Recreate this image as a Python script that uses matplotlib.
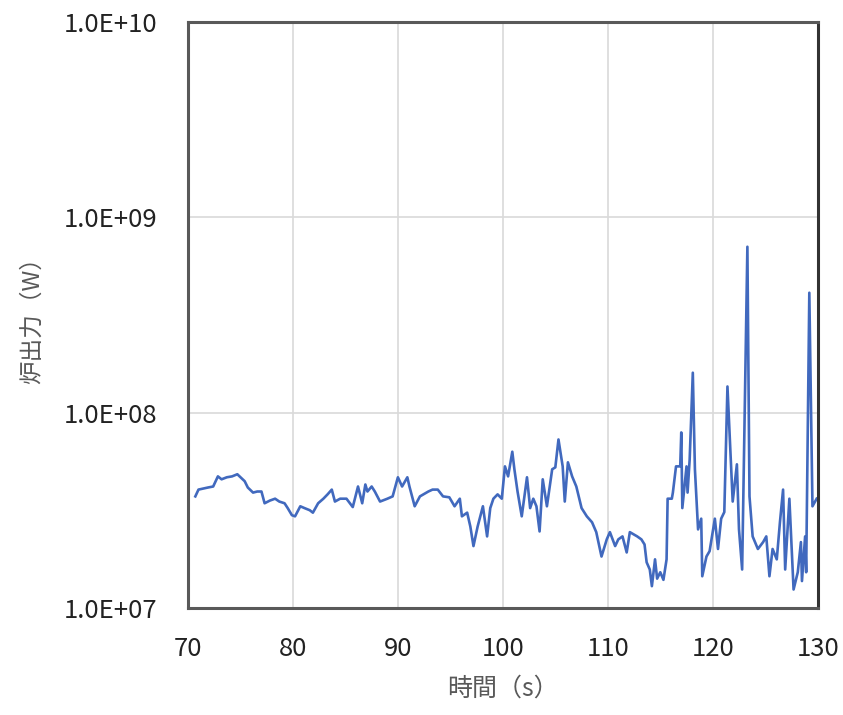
#!/usr/bin/env python3
import numpy as np
import matplotlib
matplotlib.use('Agg')
import matplotlib.pyplot as plt
from matplotlib.ticker import FixedLocator, FuncFormatter

plt.rcParams['font.family'] = ['Noto Sans CJK JP', 'DejaVu Sans']

# time (s) and reactor power (W)
time_s = [
    70.7, 71.0, 71.9, 72.4, 72.85, 73.2, 73.7, 74.2, 74.7, 75.0,
    75.4, 75.7, 76.2, 76.6, 77.0, 77.3, 77.8, 78.3, 78.7, 79.2,
    79.5, 79.9, 80.2, 80.7, 81.1, 81.6, 81.9, 82.4, 82.9, 83.3,
    83.7, 84.0, 84.5, 85.1, 85.7, 86.2, 86.6, 86.9, 87.1, 87.5,
    87.8, 88.3, 89.0, 89.5, 90.0, 90.4, 90.9, 91.1, 91.6, 92.1,
    92.9, 93.3, 93.8, 94.3, 94.9, 95.4, 95.9, 96.1, 96.6, 96.9,
    97.2, 97.6, 98.1, 98.5, 98.8, 99.1, 99.5, 99.9, 100.2, 100.5,
    100.9, 101.1, 101.4, 101.8, 102.3, 102.6, 102.9, 103.2, 103.5, 103.8,
    104.2, 104.7, 105.0, 105.3, 105.7, 105.9, 106.2, 106.6, 107.0, 107.5,
    108.0, 108.5, 108.9, 109.4, 109.9, 110.2, 110.7, 111.0, 111.4, 111.8,
    112.1, 112.8, 113.2, 113.5, 113.7, 114.0, 114.2, 114.5, 114.7, 115.0,
    115.3, 115.6, 115.7, 116.1, 116.2, 116.5, 116.9, 117.0, 117.1, 117.5,
    117.6, 117.8, 118.1, 118.3, 118.6, 118.9, 119.0, 119.4, 119.7, 120.2,
    120.5, 120.8, 121.1, 121.4, 121.9, 122.3, 122.5, 122.8, 123.3, 123.5,
    123.8, 124.3, 124.8, 125.1, 125.4, 125.7, 126.1, 126.4, 126.7, 126.9,
    127.3, 127.7, 128.1, 128.4, 128.5, 128.8, 128.9, 129.2, 129.5, 129.9,
]
power_w = [
    3.72e7, 4.03e7, 4.13e7, 4.18e7, 4.71e7, 4.55e7, 4.66e7, 4.71e7, 4.83e7, 4.66e7,
    4.45e7, 4.13e7, 3.89e7, 3.94e7, 3.94e7, 3.43e7, 3.54e7, 3.62e7, 3.50e7, 3.43e7,
    3.24e7, 2.98e7, 2.94e7, 3.31e7, 3.24e7, 3.16e7, 3.07e7, 3.43e7, 3.62e7, 3.81e7,
    4.03e7, 3.50e7, 3.62e7, 3.62e7, 3.28e7, 4.18e7, 3.43e7, 4.28e7, 3.94e7, 4.18e7,
    3.94e7, 3.50e7, 3.62e7, 3.72e7, 4.66e7, 4.18e7, 4.66e7, 4.18e7, 3.31e7, 3.72e7,
    3.94e7, 4.03e7, 4.03e7, 3.72e7, 3.68e7, 3.31e7, 3.62e7, 2.94e7, 3.07e7, 2.61e7,
    2.07e7, 2.61e7, 3.31e7, 2.32e7, 3.24e7, 3.62e7, 3.81e7, 3.62e7, 5.30e7, 4.71e7,
    6.30e7, 5.12e7, 3.94e7, 2.94e7, 4.66e7, 3.24e7, 3.62e7, 3.31e7, 2.46e7, 4.55e7,
    3.31e7, 5.12e7, 5.24e7, 7.28e7, 5.30e7, 3.50e7, 5.56e7, 4.71e7, 4.18e7, 3.24e7,
    2.94e7, 2.74e7, 2.44e7, 1.83e7, 2.24e7, 2.44e7, 2.07e7, 2.24e7, 2.32e7, 1.92e7,
    2.44e7, 2.32e7, 2.24e7, 2.11e7, 1.71e7, 1.57e7, 1.29e7, 1.77e7, 1.41e7, 1.52e7,
    1.39e7, 1.77e7, 3.62e7, 3.62e7, 3.89e7, 5.30e7, 5.30e7, 7.91e7, 3.24e7, 5.30e7,
    3.89e7, 5.75e7, 1.60e8, 5.12e7, 2.52e7, 2.86e7, 1.45e7, 1.83e7, 1.95e7, 2.86e7,
    2.00e7, 2.86e7, 3.09e7, 1.36e8, 3.50e7, 5.43e7, 2.52e7, 1.57e7, 7.07e8, 3.72e7,
    2.32e7, 2.00e7, 2.17e7, 2.32e7, 1.45e7, 2.00e7, 1.77e7, 2.74e7, 4.03e7, 1.57e7,
    3.62e7, 1.24e7, 1.52e7, 2.17e7, 1.37e7, 2.32e7, 1.52e7, 4.11e8, 3.31e7, 3.62e7,
]

x_ticks = [70, 80, 90, 100, 110, 120, 130]
y_ticks = [1e7, 1e8, 1e9, 1e10]


def sci_label(v, pos):
    exp = int(round(np.log10(v)))
    return '1.0E+%02d' % exp


def main():
    fig = plt.figure(figsize=(8.43, 7.15), dpi=100)
    ax = fig.add_axes([0.223, 0.150, 0.747, 0.819])

    ax.plot(time_s, power_w, color='#4169BE', lw=1.9)

    ax.set_yscale('log')
    ax.set_xlim(70, 130)
    ax.set_ylim(1e7, 1e10)
    ax.xaxis.set_major_locator(FixedLocator(x_ticks))
    ax.yaxis.set_major_locator(FixedLocator(y_ticks))
    ax.yaxis.set_minor_locator(FixedLocator([]))
    ax.yaxis.set_major_formatter(FuncFormatter(sci_label))

    ax.grid(True, color='#d9d9d9', lw=1.2)
    ax.set_axisbelow(True)
    for s in ax.spines.values():
        s.set_color('#595959')
        s.set_linewidth(2.2)
    ax.spines['right'].set_color('#333333')

    ax.tick_params(length=0, labelsize=18.5, labelcolor='#222222')
    ax.tick_params(axis='y', pad=22)
    ax.tick_params(axis='x', pad=20)

    ax.set_xlabel('時間（s）', fontsize=18, color='#595959', labelpad=10)
    ax.set_ylabel('炉出力（W）', fontsize=17, color='#595959', labelpad=14)

    fig.savefig('out.png', dpi=100)


if __name__ == '__main__':
    main()
